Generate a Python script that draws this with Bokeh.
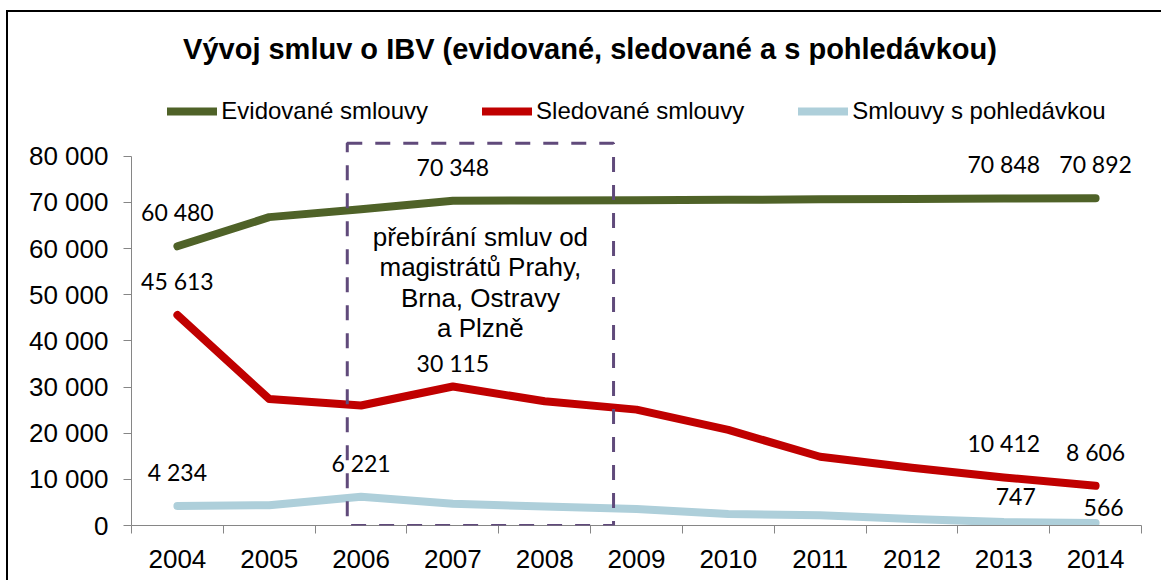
from bokeh.plotting import figure
from bokeh.models import (Range1d, FixedTicker, Legend, LegendItem, Label,
                          LabelSet, ColumnDataSource, BoxAnnotation)
from bokeh.core.properties import value
from bokeh.embed import file_html
from bokeh.resources import INLINE

# ---------------- data ----------------
years = ["2004", "2005", "2006", "2007", "2008", "2009",
         "2010", "2011", "2012", "2013", "2014"]
evidovane = [60480, 66800, 68500, 70348, 70400, 70450, 70550, 70650, 70750, 70848, 70892]
sledovane = [45613, 27400, 26000, 30115, 26900, 25100, 20700, 14900, 12500, 10412, 8606]
pohledavky = [4234, 4400, 6221, 4700, 4100, 3600, 2500, 2200, 1400, 747, 566]
series_names = ["Evidované smlouvy", "Sledované smlouvy", "Smlouvy s pohledávkou"]
y_ticks = [0, 10000, 20000, 30000, 40000, 50000, 60000, 70000, 80000]
title_text = "Vývoj smluv o IBV (evidované, sledované a s pohledávkou)"
note_lines = ["přebírání smluv od", "magistrátů Prahy,", "Brna, Ostravy", "a Plzně"]
labeled_years = [
    ["2004", "2007", "2013", "2014"],
    ["2004", "2007", "2013", "2014"],
    ["2004", "2006", "2013", "2014"],
]
box_from_year, box_to_year = "2006", "2009"

# ---------------- styling ----------------
colors = ["#4F6228", "#C00000", "#AECFDA"]
AXIS_GREY = "#868686"
PURPLE = "#604A7B"
label_offsets = {
    (1, "2007"): (0, 23),
    (2, "2013"): (12, 26),
    (2, "2014"): (8, 15),
}
DEFAULT_OFFSET = (0, 34)

W, H = 1161, 580
FRAME_LEFT_PAGE, FRAME_RIGHT_PAGE, FRAME_BOTTOM_PAGE = 131, 1141, 525
Y80_PAGE = 155.7
Y_END = 80000 * FRAME_BOTTOM_PAGE / (FRAME_BOTTOM_PAGE - Y80_PAGE)


def sx(page_x):
    return page_x - FRAME_LEFT_PAGE


def sy(page_y):
    return FRAME_BOTTOM_PAGE - page_y


def fmt(v):
    return f"{v:,}".replace(",", " ")


p = figure(width=W, height=H, x_range=Range1d(-0.5, len(years) - 0.5),
           y_range=Range1d(0, Y_END), output_backend="svg",
           toolbar_location=None, title=None,
           min_border_left=FRAME_LEFT_PAGE, min_border_right=W - FRAME_RIGHT_PAGE,
           min_border_top=0, min_border_bottom=H - FRAME_BOTTOM_PAGE,
           background_fill_color=None, border_fill_color=None,
           styles={
               "background-image": "linear-gradient(#000, #000), linear-gradient(#000, #000)",
               "background-position": "6px 10px, 6px 10px",
               "background-size": "2px 100%, 100% 2px",
               "background-repeat": "no-repeat",
           })
p.outline_line_color = None
p.xgrid.visible = False
p.ygrid.visible = False

xs = list(range(len(years)))
src = ColumnDataSource(dict(x=xs, e=evidovane, s=sledovane, p=pohledavky))

renderers = []
for col, c in zip(["e", "s", "p"], colors):
    r = p.line(x="x", y=col, source=src, line_color=c, line_width=8,
               line_cap="round", line_join="round")
    renderers.append(r)

# data labels
lx, ly, lt, lxo, lyo = [], [], [], [], []
for si, (vals, yrs) in enumerate(zip([evidovane, sledovane, pohledavky], labeled_years)):
    for yr in yrs:
        i = years.index(yr)
        ox, oy = label_offsets.get((si, yr), DEFAULT_OFFSET)
        lx.append(i)
        ly.append(vals[i])
        lt.append(fmt(vals[i]))
        lxo.append(ox)
        lyo.append(oy)
lsrc = ColumnDataSource(dict(x=lx, y=ly, t=lt, xo=lxo, yo=lyo))
p.add_layout(LabelSet(x="x", y="y", text="t", source=lsrc, x_offset="xo", y_offset="yo",
                      text_align="center", text_baseline="middle",
                      text_font=value("Lato"), text_font_size=value("23px"),
                      text_color="#000000"))

# axes
xa = p.xaxis[0]
xa.ticker = FixedTicker(ticks=xs, minor_ticks=[i - 0.5 for i in range(len(years) + 1)])
xa.major_label_overrides = {i: y for i, y in enumerate(years)}
xa.major_tick_out = 0
xa.major_tick_in = 0
xa.minor_tick_out = 8
xa.minor_tick_in = 0
xa.minor_tick_line_color = AXIS_GREY
xa.axis_line_color = AXIS_GREY
xa.major_label_text_font = "Liberation Sans"
xa.major_label_text_font_size = "26px"
xa.major_label_text_color = "#000000"
xa.major_label_standoff = 16
xa.bounds = (-0.5, len(years) - 0.5)

ya = p.yaxis[0]
ya.ticker = FixedTicker(ticks=y_ticks, minor_ticks=[])
ya.major_label_overrides = {t: fmt(t) for t in y_ticks}
ya.major_tick_out = 8
ya.major_tick_in = 0
ya.minor_tick_out = 0
ya.minor_tick_in = 0
ya.major_tick_line_color = AXIS_GREY
ya.axis_line_color = AXIS_GREY
ya.major_label_text_font = "Liberation Sans"
ya.major_label_text_font_size = "26px"
ya.major_label_text_color = "#000000"
ya.major_label_standoff = 15
ya.bounds = (0, y_ticks[-1])

# highlight box
box_left = years.index(box_from_year) - 0.15
box_right = years.index(box_to_year) - 0.25
box_top = 80000 * (FRAME_BOTTOM_PAGE - 142.7) / (FRAME_BOTTOM_PAGE - Y80_PAGE)
p.add_layout(BoxAnnotation(left=box_left, right=box_right, bottom=0, top=box_top,
                           fill_alpha=0, line_color=PURPLE, line_alpha=1.0, line_width=3,
                           line_dash="15 13"))

box_cx = (box_left + box_right) / 2
for k, line in enumerate(note_lines):
    p.add_layout(Label(x=box_cx, y=sy(236.7 + 30.2 * k), y_units="screen", text=line,
                       text_align="center", text_baseline="middle",
                       text_font="Liberation Sans", text_font_size="26px",
                       text_color="#000000"))

# title
p.add_layout(Label(x=sx(589.5), y=sy(48.5), x_units="screen", y_units="screen",
                   text=title_text, text_align="center", text_baseline="middle",
                   text_font="Liberation Sans", text_font_style="bold",
                   text_font_size="29px", text_color="#000000"))

# legend
legend = Legend(items=[LegendItem(label=n, renderers=[r]) for n, r in zip(series_names, renderers)],
                orientation="horizontal", location=(sx(167.3), sy(110.5 + 15)),
                glyph_width=50, glyph_height=30, label_height=30, label_standoff=4,
                spacing=54, padding=0, margin=0, border_line_color=None,
                background_fill_alpha=0, label_text_font="Liberation Sans",
                label_text_font_size="24px", label_text_color="#000000")
p.add_layout(legend)

open("out.html", "w").write(file_html(p, INLINE))
